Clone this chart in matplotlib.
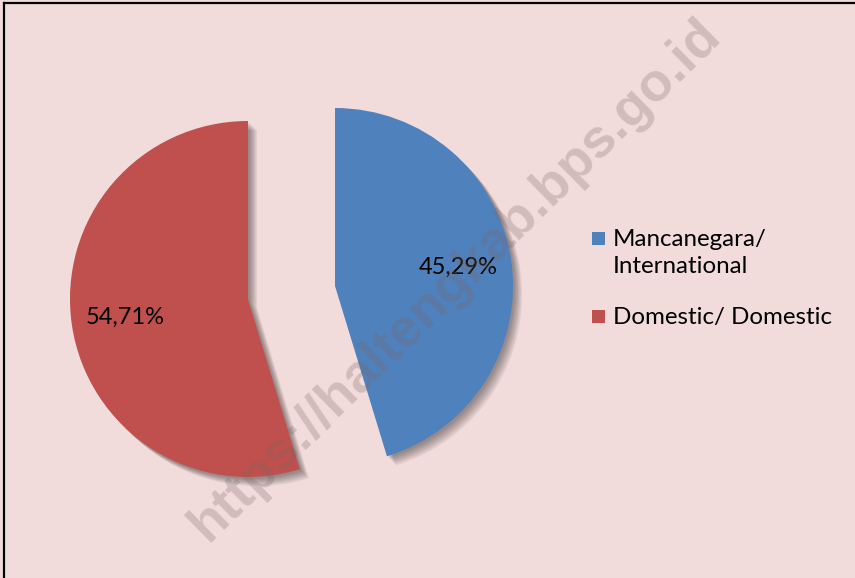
import matplotlib
matplotlib.use('Agg')
import matplotlib.pyplot as plt
import matplotlib.patheffects as pe
from matplotlib.patches import Rectangle
from matplotlib.lines import Line2D

plt.rcParams['font.family'] = 'Lato'

labels = ['Mancanegara/\nInternational', 'Domestic/ Domestic']
values = [45.29, 54.71]
colors = ['#4F81BD', '#C0504D']
watermark = 'https://haltengkab.bps.go.id'

W, H = 855, 578
fig = plt.figure(figsize=(W / 100, H / 100), dpi=100)
fig.patch.set_facecolor('#F2DCDB')
ax = fig.add_axes([0, 0, 1, 1])

# soft shadow, a few stacked offsets
shadow = [pe.SimplePatchShadow(offset=(d, -d), shadow_rgbFace='#000000', alpha=0.07)
          for d in (1.5, 2.5, 3.5, 4.5, 5.5, 6.5)] + [pe.Normal()]

wedges, texts, autotexts = ax.pie(
    values, colors=colors, startangle=90, counterclock=False,
    explode=[44, 44], radius=178, center=(291.5, H - 292.5),
    autopct=lambda p: f'{p:.2f}%'.replace('.', ','), pctdistance=0.7,
    wedgeprops=dict(linewidth=0), textprops=dict(fontsize=17, color='black'),
    frame=True)
ax.set_xlim(0, W)
ax.set_ylim(0, H)
ax.set_aspect('equal')
ax.axis('off')
for w in wedges:
    w.set_path_effects(shadow)

# legend drawn by hand
leg_y = [H - 238, H - 316]
for lab, c, y in zip(labels, colors, leg_y):
    ax.add_patch(Rectangle((592, y - 7), 13, 13, facecolor=c, edgecolor='none'))
    ax.text(613, y + 9, lab, fontsize=17.4, va='top', ha='left', linespacing=1.35)

# watermark
ax.text(455, H - 280, watermark, rotation=44.5, ha='center', va='center',
        fontsize=39, fontweight='bold', family='Liberation Sans',
        color=(0.48, 0.4, 0.4), alpha=0.27, zorder=10)

# chart border (top and left visible)
fig.add_artist(Line2D([4 / W, 1], [1 - 3 / H, 1 - 3 / H], color='black', lw=1.6,
                      transform=fig.transFigure))
fig.add_artist(Line2D([4 / W, 4 / W], [0, 1 - 3 / H], color='black', lw=1.6,
                      transform=fig.transFigure))

fig.savefig('out.png', dpi=100, facecolor=fig.get_facecolor())
